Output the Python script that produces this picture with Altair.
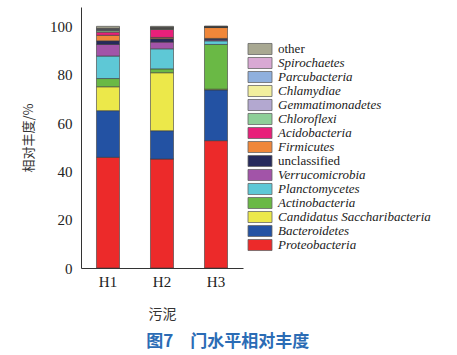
import altair as alt
import pandas as pd

samples = ["H1", "H2", "H3"]
# bottom -> top stacking order
phyla = ["Proteobacteria", "Bacteroidetes", "Candidatus Saccharibacteria", "Actinobacteria",
         "Planctomycetes", "Verrucomicrobia", "unclassified", "Firmicutes", "Acidobacteria",
         "Chloroflexi", "Gemmatimonadetes", "Chlamydiae", "Parcubacteria", "Spirochaetes", "other"]
colors = ["#ec2a2a", "#2352a3", "#ece84a", "#6ab945",
          "#5ec8d6", "#a254a8", "#262a5c", "#f0873a", "#e8207a",
          "#8ecf98", "#b3a8d0", "#f2ef9e", "#8fb0de", "#d9a9d4", "#a8a892"]
h1 = [45.8, 19.3, 9.9, 3.4, 9.3, 4.8, 1.5, 2.3, 1.3, 0.6, 0.3, 0.2, 0.3, 0.2, 0.8]
h2 = [45.1, 11.7, 24.0, 1.6, 8.3, 2.8, 1.4, 0.5, 3.3, 0.3, 0.2, 0.1, 0.2, 0.1, 0.4]
h3 = [52.7, 21.0, 0.3, 18.5, 1.5, 0.4, 0.6, 4.5, 0.1, 0.1, 0.05, 0.05, 0.1, 0.05, 0.15]
upright = ["other", "unclassified"]

rows = []
for s, vals in zip(samples, [h1, h2, h3]):
    for i, (p, v) in enumerate(zip(phyla, vals)):
        rows.append({"sample": s, "phylum": p, "value": v, "rank": i})
df = pd.DataFrame(rows)

legend_order = list(reversed(phyla))
leg_df = pd.DataFrame({"phylum": legend_order,
                       "italic": [p not in upright for p in legend_order]})

color_scale = alt.Scale(domain=phyla, range=colors)
SERIF = "Liberation Serif, Times New Roman, serif"

bars = alt.Chart(df).mark_bar(stroke="#3a3a3a", strokeWidth=0.6).encode(
    x=alt.X("sample:N", title="污泥", sort=samples,
            scale=alt.Scale(paddingInner=0.574, paddingOuter=0.287),
            axis=alt.Axis(labelAngle=0, ticks=False, domainColor="#333", domainWidth=1,
                          labelFont=SERIF, labelFontSize=15, labelColor="#222",
                          labelPadding=6, titleFont="Noto Sans CJK SC", titleFontSize=14,
                          titleFontWeight="normal", titleColor="#333", titlePadding=18)),
    y=alt.Y("value:Q", stack="zero",
            scale=alt.Scale(domain=[0, 108], nice=False),
            axis=alt.Axis(values=[0, 20, 40, 60, 80, 100], grid=False, ticks=False,
                          domainColor="#333", domainWidth=1,
                          labelFont=SERIF, labelFontSize=15, labelColor="#222",
                          labelPadding=9, title="相对丰度/%", titleFont="Noto Sans CJK SC",
                          titleFontSize=13, titleFontWeight="normal", titleColor="#333",
                          titlePadding=14)),
    color=alt.Color("phylum:N", scale=color_scale, legend=None),
    order=alt.Order("rank:Q", sort="ascending"),
).properties(width=162, height=261)

base = alt.Chart(leg_df).encode(
    y=alt.Y("phylum:N", sort=legend_order, axis=None,
            scale=alt.Scale(type="point", range=[42, 238], padding=0))
)
sym = base.mark_point(shape="M-1,-0.46H1V0.46H-1Z", filled=True, size=576, opacity=1,
                      stroke="#666", strokeWidth=0.8).encode(
    x=alt.value(12),
    color=alt.Color("phylum:N", scale=color_scale, legend=None),
)
txt_i = base.mark_text(align="left", baseline="middle", font=SERIF, fontSize=13,
                       fontStyle="italic", color="#222").encode(
    x=alt.value(30), text="phylum:N").transform_filter("datum.italic")
txt_n = base.mark_text(align="left", baseline="middle", font=SERIF, fontSize=13,
                       color="#222").encode(
    x=alt.value(30), text="phylum:N").transform_filter("!datum.italic")
legend = alt.layer(sym, txt_i, txt_n).properties(width=185, height=261)

chart = alt.hconcat(bars, legend, spacing=3).properties(
    title=alt.TitleParams("图7　门水平相对丰度", orient="bottom", anchor="middle",
                          font="Noto Sans CJK SC", fontSize=17, fontWeight=600,
                          color="#2b6cb5", offset=13),
    padding={"left": 22, "top": 7, "right": 5, "bottom": 3},
    background="white",
).configure_view(stroke=None)

chart.save("out.html", embed_options={"renderer": "svg", "actions": False})
